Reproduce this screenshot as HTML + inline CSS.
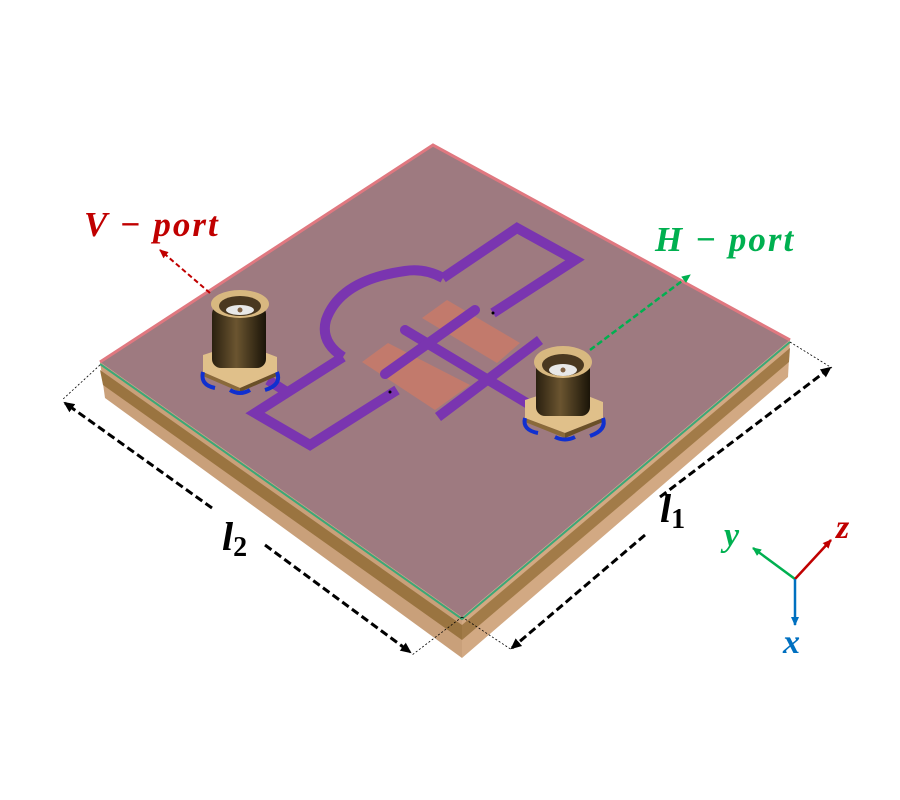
<!DOCTYPE html>
<html><head><style>body{margin:0;background:#fff}svg{display:block}</style></head><body>
<svg width="900" height="800" viewBox="0 0 900 800" xmlns="http://www.w3.org/2000/svg">
<defs>
<marker id="ak" markerWidth="12" markerHeight="12" refX="9" refY="6" orient="auto" markerUnits="userSpaceOnUse"><path d="M0,1 L11,6 L0,11 Z" fill="#000"/></marker>
<marker id="ar" markerWidth="10" markerHeight="10" refX="8" refY="5" orient="auto" markerUnits="userSpaceOnUse"><path d="M0,1 L9,5 L0,9 Z" fill="#c00000"/></marker>
<marker id="ag" markerWidth="10" markerHeight="10" refX="8" refY="5" orient="auto" markerUnits="userSpaceOnUse"><path d="M0,1 L9,5 L0,9 Z" fill="#00b050"/></marker>
<marker id="ab" markerWidth="10" markerHeight="10" refX="8" refY="5" orient="auto" markerUnits="userSpaceOnUse"><path d="M0,1 L9,5 L0,9 Z" fill="#0070c0"/></marker>
<linearGradient id="cyl" x1="0" x2="1"><stop offset="0" stop-color="#2a2010"/><stop offset="0.45" stop-color="#6b5530"/><stop offset="1" stop-color="#1a1408"/></linearGradient>
</defs>
<polygon points="100,362 462,617 462,658 105,398" fill="#c9a07a"/>
<polygon points="100,370 462,625 462,640 103,385" fill="#9a7440"/>
<polygon points="462,617 790,340 788,377 462,658" fill="#d2a983"/>
<polygon points="462,625 790,348 789,362 462,640" fill="#a27b48"/>
<polygon points="433,145 790,340 462,617 100,362" fill="#9e7a80"/>
<polyline points="100,362 433,145 790,340" fill="none" stroke="#e07880" stroke-width="3"/>
<polyline points="100,364 462,619 790,342" fill="none" stroke="#3aa878" stroke-width="2"/>
<polygon points="422,318 447,300 520,343 497,363" fill="#c87a68" opacity="0.85"/>
<polygon points="362,362 388,343 470,385 435,410" fill="#c87a68" opacity="0.85"/>
<g fill="none" stroke="#7a35b0" stroke-width="10" stroke-linejoin="miter">
<polyline points="493,313 575,260 517,228 443,278"/>
<path d="M443,278 Q425,268 405,271 Q340,280 326,320 Q320,342 343,357"/>
<polyline points="343,357 255,413 310,445 397,390"/>
<line x1="268" y1="380" x2="290" y2="394"/>
<line x1="405" y1="330" x2="530" y2="405" stroke-linecap="round"/>
<line x1="475" y1="310" x2="385" y2="374" stroke-linecap="round"/>
<line x1="540" y1="340" x2="438" y2="417"/>
</g>
<circle cx="493" cy="313" r="1.5" fill="#000"/><circle cx="390" cy="392" r="1.5" fill="#000"/>
<g>
<polygon points="203,355 240,343 277,357 277,372 240,388 203,372" fill="#e0c08a"/>
<polygon points="203,372 240,388 240,392 203,376" fill="#8a6a3a"/>
<polygon points="240,388 277,372 277,376 240,392" fill="#6a5028"/>
<path d="M203,372 Q200,385 215,388 M277,372 Q282,385 265,390 M230,390 Q240,396 250,390" stroke="#1030d0" stroke-width="4" fill="none"/>
<rect x="212" y="305" width="54" height="63" rx="9" fill="url(#cyl)"/>
<ellipse cx="240" cy="304" rx="29" ry="14" fill="#d8b880"/>
<ellipse cx="240" cy="306" rx="21" ry="10" fill="#4a3820"/>
<ellipse cx="240" cy="310" rx="14" ry="5" fill="#e8e8e8"/>
<circle cx="240" cy="310" r="2.5" fill="#806040"/>
</g>
<g>
<polygon points="525,400 565,387 603,402 603,418 565,433 525,418" fill="#e0c08a"/>
<polygon points="525,418 565,433 565,438 525,422" fill="#8a6a3a"/>
<polygon points="565,433 603,418 603,422 565,438" fill="#6a5028"/>
<path d="M525,418 Q522,430 538,433 M603,418 Q607,430 590,436 M555,437 Q565,442 575,437" stroke="#1030d0" stroke-width="4" fill="none"/>
<rect x="536" y="358" width="54" height="58" rx="9" fill="url(#cyl)"/>
<ellipse cx="563" cy="362" rx="29" ry="16" fill="#d8b880"/>
<ellipse cx="563" cy="365" rx="21" ry="11" fill="#4a3820"/>
<ellipse cx="563" cy="370" rx="14" ry="6" fill="#e8e8e8"/>
<circle cx="563" cy="370" r="2.5" fill="#806040"/>
</g>
<line x1="210" y1="293" x2="160" y2="250" stroke="#c00000" stroke-width="2" stroke-dasharray="5,3" marker-end="url(#ar)"/>
<line x1="590" y1="350" x2="690" y2="275" stroke="#00b050" stroke-width="2.5" stroke-dasharray="6,3" marker-end="url(#ag)"/>
<text x="84" y="236" font-family="Liberation Serif,serif" font-style="italic" font-weight="bold" font-size="35" letter-spacing="2" fill="#c00000">V − port</text>
<text x="655" y="251" font-family="Liberation Serif,serif" font-style="italic" font-weight="bold" font-size="35" letter-spacing="2" fill="#00b050">H − port</text>
<g stroke="#000" stroke-width="0.8" stroke-dasharray="2,2" fill="none">
<line x1="100" y1="365" x2="62" y2="400"/><line x1="462" y1="617" x2="412" y2="655"/>
<line x1="790" y1="342" x2="832" y2="368"/><line x1="462" y1="617" x2="512" y2="650"/>
</g>
<line x1="212" y1="508" x2="65" y2="403" stroke="#000" stroke-width="3" stroke-dasharray="8,4" marker-end="url(#ak)"/>
<line x1="265" y1="545" x2="410" y2="652" stroke="#000" stroke-width="3" stroke-dasharray="8,4" marker-end="url(#ak)"/>
<line x1="660" y1="497" x2="830" y2="368" stroke="#000" stroke-width="3" stroke-dasharray="8,4" marker-end="url(#ak)"/>
<line x1="645" y1="535" x2="512" y2="648" stroke="#000" stroke-width="3" stroke-dasharray="8,4" marker-end="url(#ak)"/>
<text x="222" y="550" font-family="Liberation Serif,serif" font-style="italic" font-weight="bold" font-size="40" fill="#000">l<tspan font-size="28" dy="6" font-style="normal">2</tspan></text>
<text x="660" y="522" font-family="Liberation Serif,serif" font-style="italic" font-weight="bold" font-size="40" fill="#000">l<tspan font-size="28" dy="6" font-style="normal">1</tspan></text>
<line x1="795" y1="579" x2="753" y2="548" stroke="#00b050" stroke-width="2.5" marker-end="url(#ag)"/>
<line x1="795" y1="579" x2="831" y2="540" stroke="#c00000" stroke-width="2.5" marker-end="url(#ar)"/>
<line x1="795" y1="579" x2="795" y2="625" stroke="#0070c0" stroke-width="2.5" marker-end="url(#ab)"/>
<text x="724" y="546" font-family="Liberation Serif,serif" font-style="italic" font-weight="bold" font-size="34" fill="#00b050">y</text>
<text x="836" y="538" font-family="Liberation Serif,serif" font-style="italic" font-weight="bold" font-size="34" fill="#c00000">z</text>
<text x="783" y="653" font-family="Liberation Serif,serif" font-style="italic" font-weight="bold" font-size="34" fill="#0070c0">x</text>
</svg>
</body></html>
